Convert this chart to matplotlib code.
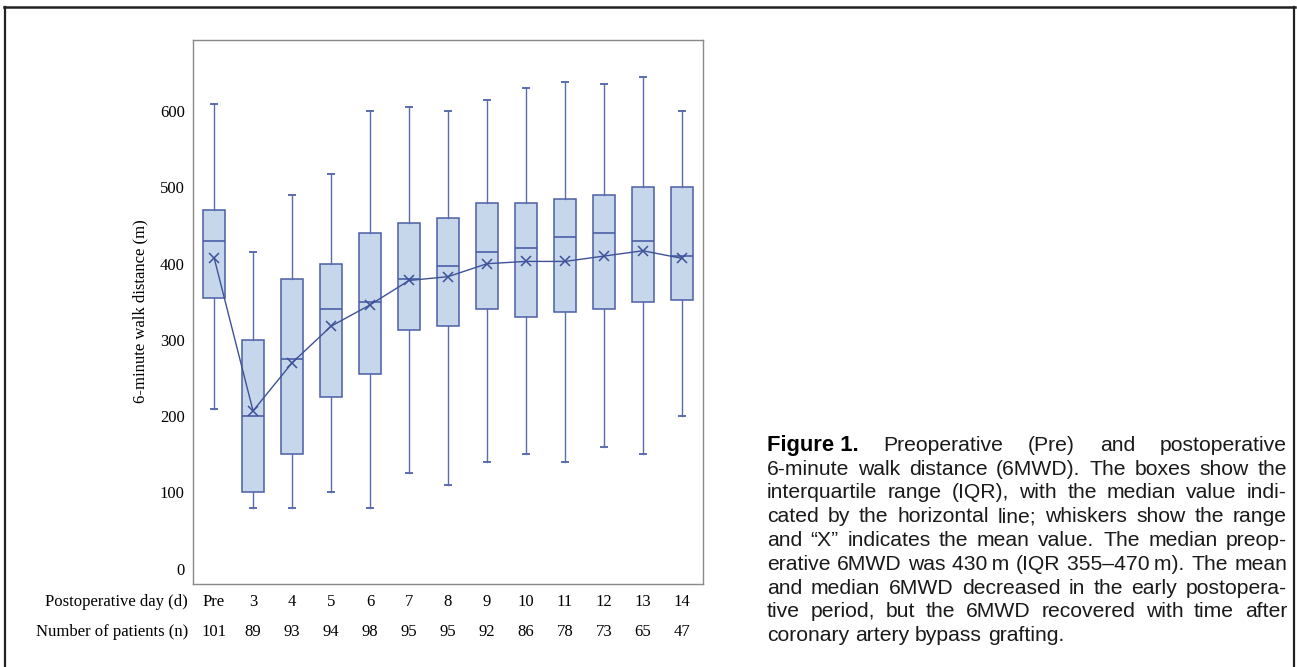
import numpy as np
import matplotlib
matplotlib.use("Agg")
import matplotlib.pyplot as plt
from matplotlib import transforms, font_manager
from matplotlib.lines import Line2D

# ---------------- data ----------------
categories = ['Pre', '3', '4', '5', '6', '7', '8', '9', '10', '11', '12', '13', '14']
n_patients = [101, 89, 93, 94, 98, 95, 95, 92, 86, 78, 73, 65, 47]
whisker_hi = [610, 415, 490, 517, 600, 605, 600, 615, 630, 638, 635, 645, 600]
q3_vals    = [470, 300, 380, 400, 440, 453, 460, 480, 480, 485, 490, 500, 500]
medians    = [430, 200, 275, 340, 350, 380, 397, 415, 420, 435, 440, 430, 410]
q1_vals    = [355, 100, 150, 225, 255, 313, 318, 340, 330, 337, 340, 350, 353]
whisker_lo = [210,  80,  80, 100,  80, 125, 110, 140, 150, 140, 160, 150, 200]
means      = [408, 207, 270, 318, 346, 378, 383, 400, 403, 403, 410, 417, 407]
yticks = [0, 100, 200, 300, 400, 500, 600]

caption_lines = [
    "Preoperative (Pre) and postoperative",
    "6-minute walk distance (6MWD). The boxes show the",
    "interquartile range (IQR), with the median value indi-",
    "cated by the horizontal line; whiskers show the range",
    "and \u201cX\u201d indicates the mean value. The median preop-",
    "erative 6MWD was 430\u2009m (IQR 355\u2013470\u2009m). The mean",
    "and median 6MWD decreased in the early postopera-",
    "tive period, but the 6MWD recovered with time after",
    "coronary artery bypass grafting.",
]

# ---------------- figure ----------------
W, H = 1297, 667
DPI = 100
fig = plt.figure(figsize=(W / DPI, H / DPI), dpi=DPI)
fig.patch.set_facecolor('white')

def fx(px):
    return px / W

def fy(py):
    return 1 - py / H

serif = ['Liberation Serif', 'DejaVu Serif']
sans = ['Liberation Sans', 'DejaVu Sans']

ax_l, ax_r, ax_t, ax_b = 193, 703, 39.5, 584
ax = fig.add_axes([fx(ax_l), fy(ax_b), fx(ax_r - ax_l), (ax_b - ax_t) / H])

box_face = '#c6d7ec'
box_edge = '#4b5ea6'
line_col = '#3f5299'

positions = np.arange(len(categories))
stats = []
for i in range(len(categories)):
    stats.append(dict(med=medians[i], q1=q1_vals[i], q3=q3_vals[i],
                      whislo=whisker_lo[i], whishi=whisker_hi[i],
                      fliers=[], label=categories[i]))

ax.bxp(stats, positions=positions, widths=0.58, patch_artist=True,
       showfliers=False,
       boxprops=dict(facecolor=box_face, edgecolor=box_edge, linewidth=1.1),
       medianprops=dict(color=box_edge, linewidth=1.2),
       whiskerprops=dict(color='#5a6cae', linewidth=1.0),
       capprops=dict(color='#5a6cae', linewidth=1.4),
       capwidths=0.16)

ax.plot(positions, means, color=line_col, linewidth=1.0, marker='x',
        markersize=7, markeredgewidth=1.1, zorder=5)

ax.set_xlim(-0.54, 12.54)
ax.set_ylim(-20, 694)
ax.set_yticks(yticks)
ax.set_yticklabels([str(v) for v in yticks], fontfamily=serif, fontsize=12)
ax.set_xticks([])
ax.tick_params(axis='y', length=0, pad=6)
for sp in ax.spines.values():
    sp.set_color('#8a8a8a')
    sp.set_linewidth(1.0)

# y label
fig.text(fx(140), fy(311), '6-minute walk distance (m)', rotation=90,
         ha='center', va='center', fontfamily=serif, fontsize=12)

# rows under the axis
blend = transforms.blended_transform_factory(ax.transData, fig.transFigure)
row1_y, row2_y = fy(602), fy(632)
fig.text(fx(188), row1_y, 'Postoperative day (d)', ha='right', va='center',
         fontfamily=serif, fontsize=12)
fig.text(fx(188), row2_y, 'Number of patients (n)', ha='right', va='center',
         fontfamily=serif, fontsize=12)
for p, c, nn in zip(positions, categories, n_patients):
    ax.text(p, row1_y, c, transform=blend, ha='center', va='center',
            fontfamily=serif, fontsize=12)
    ax.text(p, row2_y, str(nn), transform=blend, ha='center', va='center',
            fontfamily=serif, fontsize=12)

# outer frame (left, top, right)
frame_col = '#222222'
fig.add_artist(Line2D([fx(5), fx(5)], [0, fy(7)], color=frame_col, linewidth=1.6))
fig.add_artist(Line2D([fx(4.2), fx(1294.8)], [fy(7), fy(7)], color=frame_col, linewidth=1.8))
fig.add_artist(Line2D([fx(1294), fx(1294)], [0, fy(7)], color=frame_col, linewidth=1.6))

# ---------------- caption (justified) ----------------
names = {f.name for f in font_manager.fontManager.ttflist}
if 'Liberation Sans Narrow' in names:
    bold_family = ['Liberation Sans Narrow', 'DejaVu Sans']
    bold_size_add = 2.0
else:
    bold_family = ['Liberation Sans', 'DejaVu Sans']
    bold_size_add = 0.6

cap_fs = 15.2
cap_left, cap_right = 767, 1287
base0, line_step = 451, 23.75

renderer = fig.canvas.get_renderer()

def width_px(t):
    return t.get_window_extent(renderer=renderer).width

for i, line in enumerate(caption_lines):
    yb = fy(base0 + i * line_step)
    words = line.split(' ')
    texts = []
    if i == 0:
        t = fig.text(0, yb, 'Figure 1.', fontfamily=bold_family, fontweight='bold',
                     fontsize=cap_fs + bold_size_add, va='baseline', ha='left')
        texts.append(t)
    for w in words:
        t = fig.text(0, yb, w, fontfamily=sans, fontsize=cap_fs, va='baseline',
                     ha='left', color='#1a1a1a')
        texts.append(t)
    widths = [width_px(t) for t in texts]
    last = (i == len(caption_lines) - 1)
    natural_gap = 0.278 * cap_fs * DPI / 72
    if last or len(texts) < 2:
        gap = natural_gap
    else:
        gap = (cap_right - cap_left - sum(widths)) / (len(texts) - 1)
    x = cap_left
    for t, wdt in zip(texts, widths):
        t.set_x(fx(x))
        x += wdt + gap

fig.savefig('out.png', dpi=DPI)
